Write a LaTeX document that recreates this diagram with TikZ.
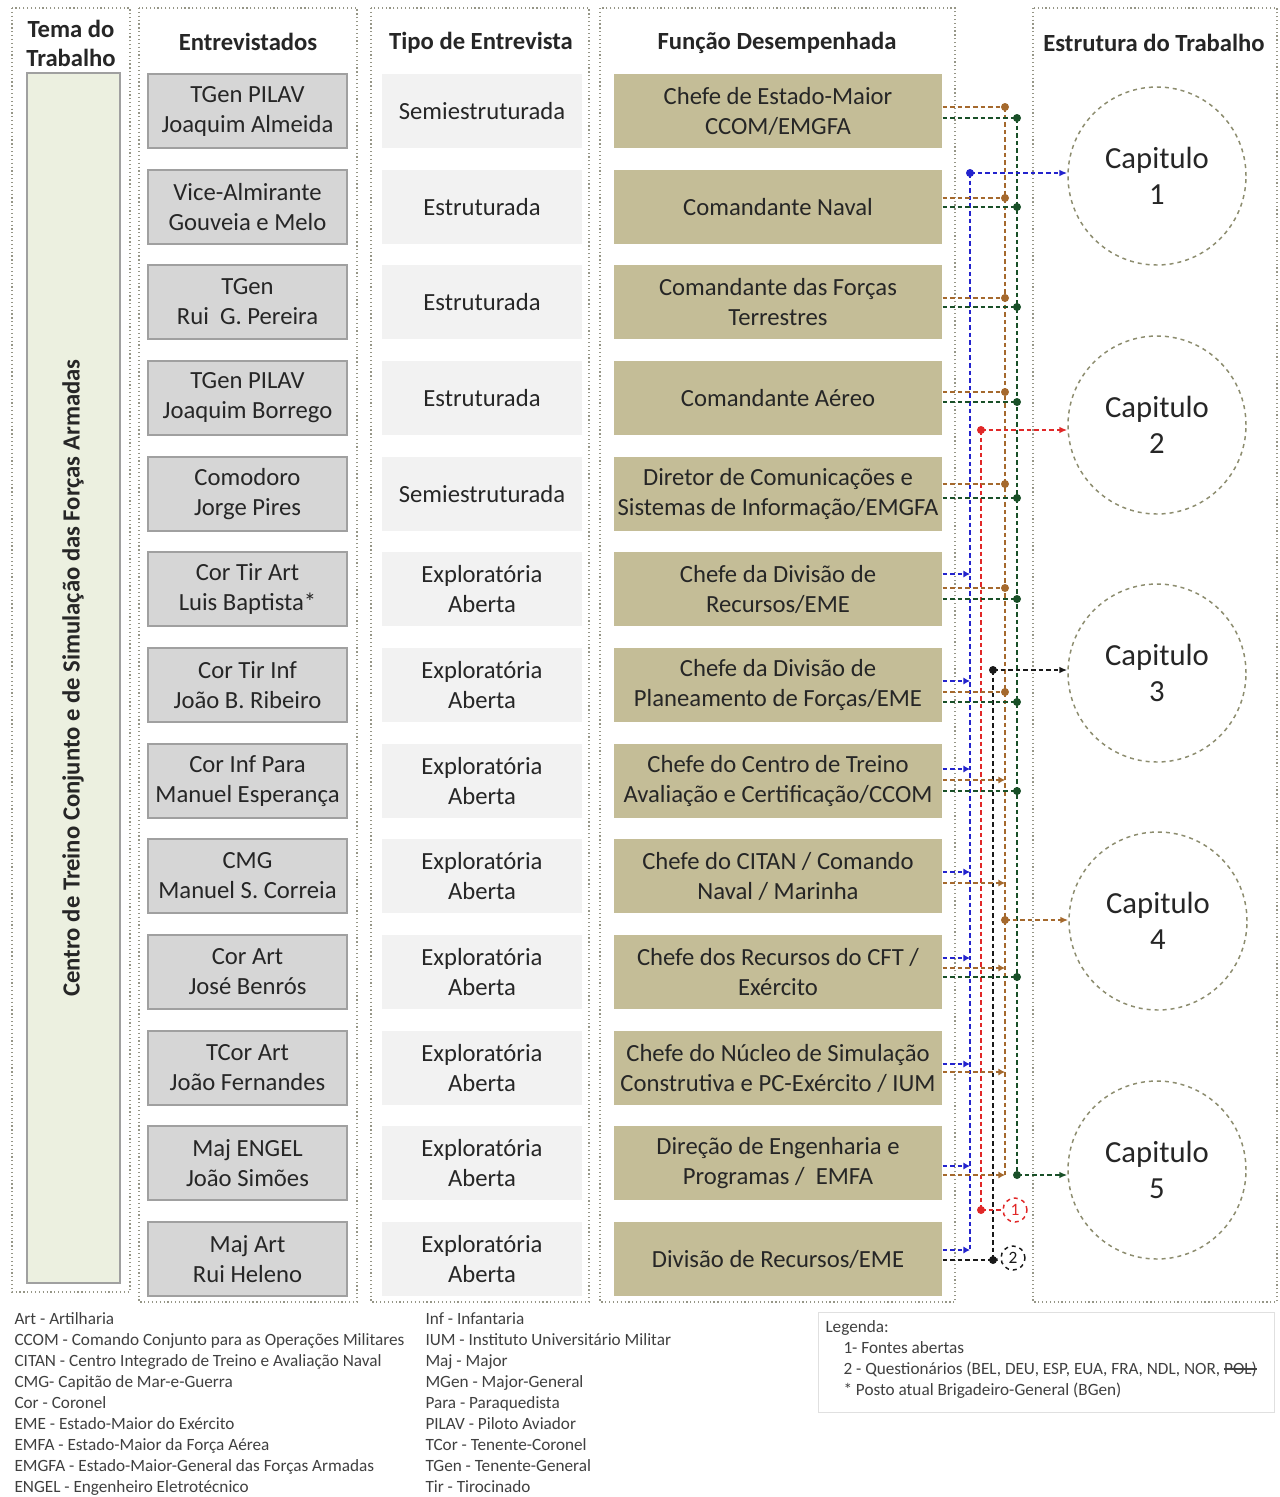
\documentclass[tikz,border=0pt]{standalone}
\usepackage{fontspec}
\setmainfont{Carlito}
\usetikzlibrary{arrows.meta}

\definecolor{entfill}{RGB}{214,214,214}
\definecolor{entdraw}{RGB}{160,160,160}
\definecolor{tipofill}{RGB}{242,242,242}
\definecolor{funcfill}{RGB}{196,189,151}
\definecolor{temafill}{RGB}{236,240,224}
\definecolor{colborder}{RGB}{150,150,135}
\definecolor{capdraw}{RGB}{140,140,110}
\definecolor{lnbrown}{RGB}{165,105,45}
\definecolor{lngreen}{RGB}{25,80,40}
\definecolor{lnblue}{RGB}{35,35,205}
\definecolor{lnred}{RGB}{225,40,40}
\definecolor{lnblack}{RGB}{25,25,25}
\definecolor{txtdark}{RGB}{38,38,38}
\definecolor{txtlegend}{RGB}{64,64,64}

\newcommand{\strk}[1]{\setbox0\hbox{#1}\rlap{\rule[0.28em]{\wd0}{0.07em}}\box0}

\tikzset{every picture/.style={line width=0.75pt}}
\tikzset{
  colframe/.style={draw=colborder, dotted, line width=0.9pt},
  boxtext/.style={align=center, text=txtdark, font=\fontsize{18.5}{22.5}\selectfont},
  headtext/.style={align=center, text=txtdark, font=\bfseries\fontsize{18.5}{21.75}\selectfont},
  entbox/.style={boxtext, draw=entdraw, fill=entfill, line width=1.2pt, minimum width=149pt, minimum height=55.5pt, inner sep=0pt},
  tipobox/.style={boxtext, fill=tipofill, minimum width=150pt, minimum height=55pt, inner sep=0pt},
  funcbox/.style={boxtext, fill=funcfill, minimum width=246pt, minimum height=55pt, inner sep=0pt},
  capcircle/.style={circle, draw=capdraw, dashed, line width=1.1pt, minimum size=133.5pt, align=center, text=txtdark, font=\fontsize{23}{27.5}\selectfont},
  srccircle/.style={circle, dashed, line width=1.1pt, minimum size=18pt, inner sep=0pt, font=\fontsize{13}{15}\selectfont},
  lnstyle/.style={dash pattern=on 3.5pt off 2.2pt, line width=1.9pt},
  blueln/.style={lnstyle, draw=lnblue},
  redln/.style={lnstyle, draw=lnred},
  blackln/.style={lnstyle, draw=lnblack},
  brownln/.style={lnstyle, draw=lnbrown},
  greenln/.style={lnstyle, draw=lngreen},
  tipc/.style={-{Latex[length=6pt,width=5pt]}},
  tipv/.style={-{Latex[length=5pt,width=5.5pt]}},
  jdot/.style={circle, inner sep=0pt, minimum size=6pt},
  legtext/.style={anchor=north west, align=left, inner sep=0pt, text=txtlegend, font=\fontsize{12.9}{15.75}\selectfont}
}

\begin{document}
\begin{tikzpicture}[x=0.75pt,y=0.75pt,yscale=-1,xscale=1]
\useasboundingbox (0,0) rectangle (1280,1497);
\fill[white] (0,0) rectangle (1280,1497);

%Shape: Column frames
\draw[colframe] (12,8) rectangle (130,1292);
\draw[colframe] (139,8) rectangle (357,1302);
\draw[colframe] (371,8) rectangle (589,1302);
\draw[colframe] (600,8) rectangle (955,1302);
\draw[colframe] (1033,8) rectangle (1277,1302);

% Headers
\node[headtext] (hTema) at (71,43) {Tema do\\Trabalho};
\node[headtext] (hEnt) at (248,42) {Entrevistados};
\node[headtext] (hTipo) at (481,43) {Tipo de Entrevista};
\node[headtext] (hFunc) at (777,43) {Função Desempenhada};
\node[headtext] (hEstr) at (1154,43) {Estrutura do Trabalho};

%Shape: Rectangle (tema)
\draw[draw=entdraw, fill=temafill, line width=1.2pt] (27,73) rectangle (120,1283);
\node[headtext, rotate=90] (tema) at (73,678) {Centro de Treino Conjunto e de Simulação das Forças Armadas};

% Entrevistados
\node[entbox] (e1) at (247.5,111) {TGen PILAV\\Joaquim Almeida};
\node[entbox] (e2) at (247.5,207) {Vice-Almirante\\Gouveia e Melo};
\node[entbox] (e3) at (247.5,302) {TGen\\Rui\ \ G. Pereira};
\node[entbox] (e4) at (247.5,398) {TGen PILAV\\Joaquim Borrego};
\node[entbox] (e5) at (247.5,494) {Comodoro\\Jorge Pires};
\node[entbox] (e6) at (247.5,589) {Cor Tir Art\\Luis Baptista*};
\node[entbox] (e7) at (247.5,685) {Cor Tir Inf\\João B. Ribeiro};
\node[entbox] (e8) at (247.5,781) {Cor Inf Para\\Manuel Esperança};
\node[entbox] (e9) at (247.5,876) {CMG\\Manuel S. Correia};
\node[entbox] (e10) at (247.5,972) {Cor Art\\José Benrós};
\node[entbox] (e11) at (247.5,1068) {TCor Art\\João Fernandes};
\node[entbox] (e12) at (247.5,1163) {Maj ENGEL\\João Simões};
\node[entbox] (e13) at (247.5,1259) {Maj Art\\Rui Heleno};

% Tipo de Entrevista
\node[tipobox] (t1) at (482,111) {Semiestruturada};
\node[tipobox] (t2) at (482,207) {Estruturada};
\node[tipobox] (t3) at (482,302) {Estruturada};
\node[tipobox] (t4) at (482,398) {Estruturada};
\node[tipobox] (t5) at (482,494) {Semiestruturada};
\node[tipobox] (t6) at (482,589) {Exploratória\\Aberta};
\node[tipobox] (t7) at (482,685) {Exploratória\\Aberta};
\node[tipobox] (t8) at (482,781) {Exploratória\\Aberta};
\node[tipobox] (t9) at (482,876) {Exploratória\\Aberta};
\node[tipobox] (t10) at (482,972) {Exploratória\\Aberta};
\node[tipobox] (t11) at (482,1068) {Exploratória\\Aberta};
\node[tipobox] (t12) at (482,1163) {Exploratória\\Aberta};
\node[tipobox] (t13) at (482,1259) {Exploratória\\Aberta};

% Funcao Desempenhada
\node[funcbox] (f1) at (778,111) {Chefe de Estado-Maior\\CCOM/EMGFA};
\node[funcbox] (f2) at (778,207) {Comandante Naval};
\node[funcbox] (f3) at (778,302) {Comandante das Forças\\Terrestres};
\node[funcbox] (f4) at (778,398) {Comandante Aéreo};
\node[funcbox] (f5) at (778,494) {Diretor de Comunicações e\\Sistemas de Informação/EMGFA};
\node[funcbox] (f6) at (778,589) {Chefe da Divisão de\\Recursos/EME};
\node[funcbox] (f7) at (778,685) {Chefe da Divisão de\\Planeamento de Forças/EME};
\node[funcbox] (f8) at (778,781) {Chefe do Centro de Treino\\Avaliação e Certificação/CCOM};
\node[funcbox] (f9) at (778,876) {Chefe do CITAN / Comando\\Naval / Marinha};
\node[funcbox] (f10) at (778,972) {Chefe dos Recursos do CFT /\\Exército};
\node[funcbox] (f11) at (778,1068) {Chefe do Núcleo de Simulação\\Construtiva e PC-Exército / IUM};
\node[funcbox] (f12) at (778,1163) {Direção de Engenharia e\\Programas /\ \ EMFA};
\node[funcbox] (f13) at (778,1259) {Divisão de Recursos/EME};

% Estrutura do Trabalho
\node[capcircle] (cap1) at (1157,176) {Capitulo\\1};
\node[capcircle] (cap2) at (1157,425) {Capitulo\\2};
\node[capcircle] (cap3) at (1157,673) {Capitulo\\3};
\node[capcircle] (cap4) at (1158,921) {Capitulo\\4};
\node[capcircle] (cap5) at (1157,1170) {Capitulo\\5};

% Sources
\node[srccircle, draw=lnred, text=lnred] (src1) at (1015,1210) {1};
\node[srccircle, draw=lnblack, text=lnblack] (src2) at (1013,1258) {2};

% Junctions
\coordinate (bl0) at (970,173);
\coordinate (bl6) at (970,574);
\coordinate (bl7) at (970,681);
\coordinate (bl8) at (970,769);
\coordinate (bl9) at (970,872);
\coordinate (bl10) at (970,958);
\coordinate (bl11) at (970,1064);
\coordinate (bl12) at (970,1166);
\coordinate (bl13) at (970,1250);
\coordinate (rd0) at (981,430);
\coordinate (rd1) at (981,1210);
\coordinate (bk0) at (993,670);
\coordinate (bk13) at (993,1260);
\coordinate (br1) at (1005,107);
\coordinate (br2) at (1005,198);
\coordinate (br3) at (1005,298);
\coordinate (br4) at (1005,392);
\coordinate (br5) at (1005,484);
\coordinate (br6) at (1005,588);
\coordinate (br7) at (1005,692);
\coordinate (br8) at (1005,780);
\coordinate (br9) at (1005,883);
\coordinate (br10) at (1005,968);
\coordinate (br11) at (1005,1072);
\coordinate (br12) at (1005,1175);
\coordinate (brc) at (1005,920);
\coordinate (gn1) at (1017,118);
\coordinate (gn2) at (1017,207);
\coordinate (gn3) at (1017,307);
\coordinate (gn4) at (1017,402);
\coordinate (gn5) at (1017,498);
\coordinate (gn6) at (1017,599);
\coordinate (gn7) at (1017,702);
\coordinate (gn8) at (1017,791);
\coordinate (gn10) at (1017,977);
\coordinate (gnc) at (1017,1175);

%Straight Lines (verticals)
\draw[blueln] (bl0) -- (bl13);
\draw[redln] (rd0) -- (rd1);
\draw[blackln] (bk0) -- (bk13);
\draw[brownln] (br1) -- (br12);
\draw[greenln] (gn1) -- (gnc);

%Straight Lines (blue)
\draw[blueln, tipv] (f6.east |- bl6) -- (bl6);
\draw[blueln, tipv] (f7.east |- bl7) -- (bl7);
\draw[blueln, tipv] (f8.east |- bl8) -- (bl8);
\draw[blueln, tipv] (f9.east |- bl9) -- (bl9);
\draw[blueln, tipv] (f10.east |- bl10) -- (bl10);
\draw[blueln, tipv] (f11.east |- bl11) -- (bl11);
\draw[blueln, tipv] (f12.east |- bl12) -- (bl12);
\draw[blueln, tipv] (f13.east |- bl13) -- (bl13);

%Straight Lines (brown)
\draw[brownln] (f1.east |- br1) -- (br1);
\draw[brownln] (f2.east |- br2) -- (br2);
\draw[brownln] (f3.east |- br3) -- (br3);
\draw[brownln] (f4.east |- br4) -- (br4);
\draw[brownln] (f5.east |- br5) -- (br5);
\draw[brownln] (f6.east |- br6) -- (br6);
\draw[brownln] (f7.east |- br7) -- (br7);
\draw[brownln, tipv] (f8.east |- br8) -- (br8);
\draw[brownln, tipv] (f9.east |- br9) -- (br9);
\draw[brownln, tipv] (f10.east |- br10) -- (br10);
\draw[brownln, tipv] (f11.east |- br11) -- (br11);
\draw[brownln, tipv] (f12.east |- br12) -- (br12);

%Straight Lines (green)
\draw[greenln] (f1.east |- gn1) -- (gn1);
\draw[greenln] (f2.east |- gn2) -- (gn2);
\draw[greenln] (f3.east |- gn3) -- (gn3);
\draw[greenln] (f4.east |- gn4) -- (gn4);
\draw[greenln] (f5.east |- gn5) -- (gn5);
\draw[greenln] (f6.east |- gn6) -- (gn6);
\draw[greenln] (f7.east |- gn7) -- (gn7);
\draw[greenln] (f8.east |- gn8) -- (gn8);
\draw[greenln] (f10.east |- gn10) -- (gn10);

%Straight Lines (sources)
\draw[blackln] (f13.east |- bk13) -- (bk13);
\draw[blackln] (bk13) -- (src2);
\draw[redln] (rd1) -- (src1);

%Straight Lines (to chapters)
\draw[blueln, tipc] (bl0) -- (bl0 -| cap1.west);
\draw[redln, tipc] (rd0) -- (rd0 -| cap2.west);
\draw[blackln, tipc] (bk0) -- (bk0 -| cap3.west);
\draw[brownln, tipc] (brc) -- (brc -| cap4.west);
\draw[greenln, tipc] (gnc) -- (gnc -| cap5.west);

%Shape: Circle (dots)
\node[jdot, fill=lnblue] at (bl0) {};
\node[jdot, fill=lnred] at (rd0) {};
\node[jdot, fill=lnred] at (rd1) {};
\node[jdot, fill=lnblack] at (bk0) {};
\node[jdot, fill=lnblack] at (bk13) {};
\node[jdot, fill=lnbrown] at (br1) {};
\node[jdot, fill=lnbrown] at (br2) {};
\node[jdot, fill=lnbrown] at (br3) {};
\node[jdot, fill=lnbrown] at (br4) {};
\node[jdot, fill=lnbrown] at (br5) {};
\node[jdot, fill=lnbrown] at (br6) {};
\node[jdot, fill=lnbrown] at (br7) {};
\node[jdot, fill=lnbrown] at (brc) {};
\node[jdot, fill=lngreen] at (gn1) {};
\node[jdot, fill=lngreen] at (gn2) {};
\node[jdot, fill=lngreen] at (gn3) {};
\node[jdot, fill=lngreen] at (gn4) {};
\node[jdot, fill=lngreen] at (gn5) {};
\node[jdot, fill=lngreen] at (gn6) {};
\node[jdot, fill=lngreen] at (gn7) {};
\node[jdot, fill=lngreen] at (gn8) {};
\node[jdot, fill=lngreen] at (gn10) {};
\node[jdot, fill=lngreen] at (gnc) {};

% Text Node (abbreviations)
\node[legtext] (abbr1) at (14,1312) {Art - Artilharia\\CCOM - Comando Conjunto para as Operações Militares\\CITAN - Centro Integrado de Treino e Avaliação Naval\\CMG- Capitão de Mar-e-Guerra\\Cor - Coronel\\EME - Estado-Maior do Exército\\EMFA - Estado-Maior da Força Aérea\\EMGFA - Estado-Maior-General das Forças Armadas\\ENGEL - Engenheiro Eletrotécnico};
\node[legtext] (abbr2) at (425,1312) {Inf - Infantaria\\IUM - Instituto Universitário Militar\\Maj - Major\\MGen - Major-General\\Para - Paraquedista\\PILAV - Piloto Aviador\\TCor - Tenente-Coronel\\TGen - Tenente-General\\Tir - Tirocinado};

%Shape: Rectangle (legend)
\draw[draw=black!12, line width=0.6pt] (818,1312) rectangle (1274,1412);
\node[legtext] (leg0) at (825,1320) {Legenda:};
\node[legtext] (leg1) at (843,1341) {1- Fontes abertas\\2 - Questionários (BEL, DEU, ESP, EUA, FRA, NDL, NOR, \strk{POL)}\\* Posto atual Brigadeiro-General (BGen)};

\end{tikzpicture}
\end{document}
